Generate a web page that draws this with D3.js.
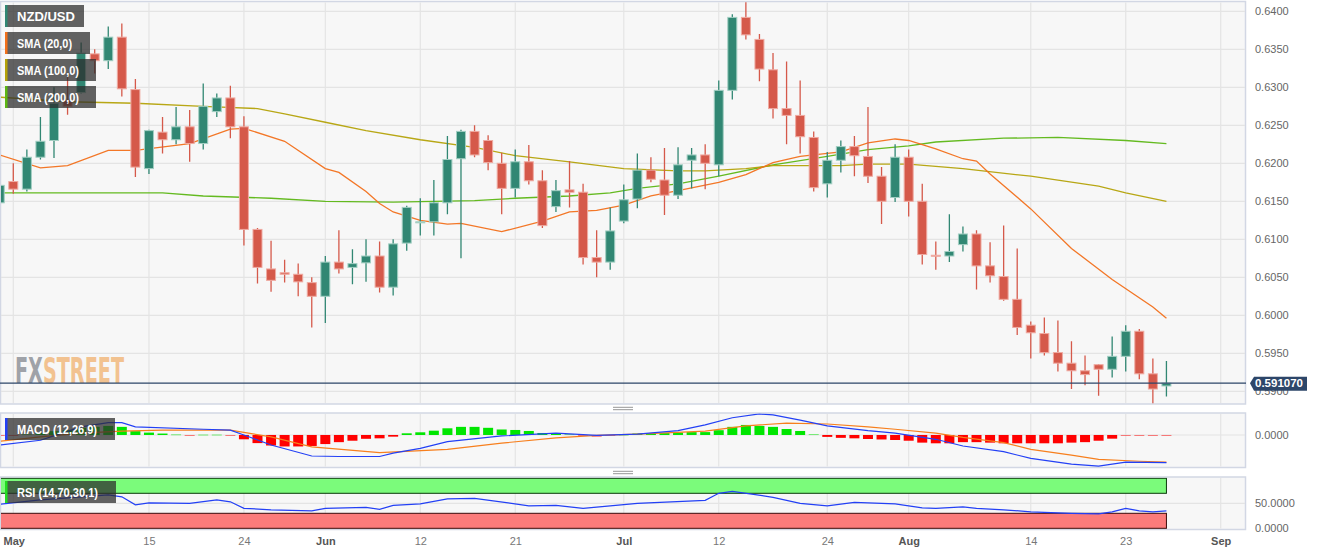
<!DOCTYPE html>
<html><head><meta charset="utf-8">
<script src="https://cdn.jsdelivr.net/npm/d3@7"></script>
<style>
html,body{margin:0;padding:0;background:#fff;}
svg{display:block;font-family:"Liberation Sans",Arial,sans-serif;}
</style>
</head><body>
<svg id="chart" width="1323" height="555"></svg>
<script>
// ---------------- DATA ----------------
const dates = ["04-28",
 "05-01","05-02","05-03","05-04","05-05","05-08","05-09","05-10","05-11","05-12","05-15","05-16","05-17","05-18","05-19","05-22","05-23","05-24","05-25","05-26","05-29","05-30","05-31",
 "06-01","06-02","06-05","06-06","06-07","06-08","06-09","06-12","06-13","06-14","06-15","06-16","06-19","06-20","06-21","06-22","06-23","06-26","06-27","06-28","06-29","06-30",
 "07-03","07-04","07-05","07-06","07-07","07-10","07-11","07-12","07-13","07-14","07-17","07-18","07-19","07-20","07-21","07-24","07-25","07-26","07-27","07-28","07-31",
 "08-01","08-02","08-03","08-04","08-07","08-08","08-09","08-10","08-11","08-14","08-15","08-16","08-17","08-18","08-21","08-22","08-23","08-24","08-25","08-28"];
const futureDates = ["08-29","08-30","08-31","09-01"];

const open = [.6148,
 .6176,.6166,.6208,.6230,.6283,.6293,.6344,.6335,.6366,.6297,.6193,.6241,.6231,.6248,.6226,.6268,.6286,.6248,.6113,.6061,.6056,.6054,.6043,
 .6025,.6070,.6063,.6069,.6078,.6037,.6095,.6122,.6123,.6148,.6206,.6242,.6230,.6200,.6167,.6202,.6177,.6143,.6165,.6162,.6076,.6070,
 .6124,.6153,.6191,.6178,.6158,.6204,.6211,.6198,.6296,.6392,.6363,.6323,.6272,.6263,.6234,.6173,.6204,.6222,.6209,.6183,.6155,
 .6208,.6150,.6079,.6078,.6093,.6107,.6065,.6051,.6021,.5987,.5976,.5951,.5937,.5927,.5935,.5929,.5946,.5979,.5923,.5907];
const high = [.6187,
 .6200,.6218,.6261,.6300,.6314,.6359,.6350,.6380,.6384,.6311,.6244,.6261,.6274,.6270,.6305,.6292,.6302,.6262,.6115,.6098,.6073,.6068,.6050,
 .6078,.6112,.6087,.6100,.6097,.6100,.6144,.6154,.6178,.6236,.6244,.6250,.6237,.6214,.6218,.6224,.6191,.6178,.6203,.6173,.6112,.6142,
 .6172,.6213,.6208,.6220,.6221,.6220,.6225,.6309,.6396,.6412,.6370,.6345,.6334,.6309,.6242,.6215,.6230,.6236,.6274,.6195,.6225,
 .6218,.6173,.6097,.6133,.6117,.6112,.6096,.6118,.6088,.5992,.5997,.5993,.5966,.5947,.5936,.5972,.5987,.5982,.5943,.5940];
const low = [.6124,
 .6160,.6163,.6205,.6207,.6264,.6292,.6318,.6324,.6288,.6182,.6186,.6213,.6225,.6202,.6218,.6261,.6233,.6092,.6042,.6031,.6043,.6025,.5984,
 .5990,.6055,.6041,.6044,.6030,.6026,.6085,.6105,.6105,.6133,.6075,.6208,.6191,.6133,.6155,.6172,.6115,.6136,.6142,.6067,.6050,.6060,
 .6121,.6141,.6175,.6132,.6153,.6167,.6166,.6183,.6284,.6363,.6308,.6259,.6225,.6213,.6163,.6155,.6188,.6183,.6174,.6120,.6149,
 .6130,.6067,.6060,.6070,.6084,.6034,.6043,.6019,.5974,.5943,.5947,.5926,.5903,.5908,.5894,.5918,.5926,.5916,.5884,.5893];
const close = [.6171,
 .6166,.6208,.6229,.6279,.6275,.6345,.6335,.6366,.6298,.6195,.6243,.6231,.6248,.6226,.6275,.6286,.6248,.6113,.6063,.6046,.6054,.6044,.6025,
 .6070,.6061,.6068,.6078,.6037,.6094,.6142,.6123,.6148,.6205,.6242,.6211,.6201,.6167,.6202,.6177,.6118,.6164,.6162,.6076,.6070,.6111,
 .6152,.6191,.6179,.6158,.6198,.6211,.6200,.6296,.6392,.6369,.6324,.6272,.6263,.6235,.6168,.6204,.6222,.6210,.6183,.6150,.6208,
 .6150,.6080,.6078,.6084,.6107,.6065,.6052,.6021,.5984,.5977,.5951,.5937,.5927,.5922,.5929,.5946,.5979,.5923,.5903,.59107];
const lastPrice = 0.591070;

const sma20 = [["04-28",.6211],["05-03",.6194],["05-05",.6197],["05-10",.6217],["05-12",.6217],["05-18",.6226],["05-23",.6245],["05-24",.6246],["05-29",.6229],["06-01",.6193],["06-02",.6188],["06-06",.6163],["06-07",.6147],["06-08",.6136],["06-12",.6125],["06-14",.6120],["06-15",.6121],["06-20",.6110],["06-23",.6124],["06-27",.6136],["06-29",.6138],["07-03",.6145],["07-05",.6157],["07-07",.6164],["07-12",.6175],["07-14",.6185],["07-18",.6201],["07-20",.6209],["07-25",.6215],["07-27",.6227],["07-31",.6232],["08-01",.6230],["08-03",.6219],["08-07",.6206],["08-08",.6203],["08-09",.6186],["08-14",.6140],["08-17",.6088],["08-22",.6047],["08-25",.6011],["08-28",.5996]];
const sma100 = [["04-28",.6287],["05-05",.6281],["05-12",.6279],["05-19",.6275],["05-25",.6272],["05-29",.6265],["06-01",.6254],["06-06",.6243],["06-12",.6231],["06-16",.6221],["06-21",.6210],["06-27",.6202],["07-03",.6193],["07-07",.6190],["07-11",.6190],["07-14",.6193],["07-18",.6197],["07-25",.6197],["07-27",.6199],["08-01",.6199],["08-03",.6196],["08-07",.6193],["08-14",.6183],["08-16",.6178],["08-21",.6170],["08-23",.6161],["08-28",.6150]];
const sma200 = [["04-28",.6161],["05-05",.6161],["05-12",.6161],["05-16",.6161],["05-19",.6157],["05-26",.6154],["06-01",.6150],["06-08",.6149],["06-16",.6151],["06-21",.6154],["06-27",.6157],["06-30",.6161],["07-04",.6167],["07-07",.6173],["07-12",.6183],["07-18",.6198],["07-24",.6209],["07-27",.6218],["08-01",.6223],["08-03",.6228],["08-10",.6233],["08-16",.6234],["08-23",.6230],["08-28",.6226]];

const macdLine = [["04-28",-.0021],["05-03",-.0011],["05-08",.0017],["05-10",.0026],["05-11",.0026],["05-12",.0017],["05-19",.0012],["05-23",.0010],["05-24",.0000],["05-26",-.0021],["05-31",-.0044],["06-02",-.0045],["06-07",-.0045],["06-08",-.0038],["06-12",-.0028],["06-14",-.0014],["06-20",-.0002],["06-26",.0004],["06-29",-.0001],["07-04",.0002],["07-07",.0009],["07-11",.0021],["07-13",.0036],["07-17",.0044],["07-18",.0042],["07-20",.0031],["07-24",.0019],["07-27",.0009],["07-31",.0004],["08-03",-.0009],["08-07",-.0023],["08-10",-.0035],["08-14",-.0049],["08-17",-.0061],["08-21",-.0065],["08-23",-.0057],["08-28",-.0058]];
const signalLine = [["04-28",-.0013],["05-03",-.0004],["05-08",.0004],["05-11",.0008],["05-16",.0010],["05-23",.0010],["05-26",-.0004],["05-31",-.0025],["06-07",-.0037],["06-14",-.0030],["06-20",-.0017],["06-26",-.0006],["06-29",-.0001],["07-04",.0002],["07-11",.0008],["07-14",.0019],["07-19",.0025],["07-24",.0023],["07-27",.0017],["07-31",.0012],["08-03",.0004],["08-07",-.0005],["08-10",-.0016],["08-14",-.0030],["08-17",-.0042],["08-21",-.0051],["08-24",-.0055],["08-28",-.0057]];
const macdHist = [-.0001,
 -.0001,.0002,.0004,.0008,.0010,.0015,.0017,.0019,.0017,.0008,.0005,.0003,.00015,-.00015,.0001,.0001,-.00006,-.0009,-.0017,-.0022,-.0024,-.0024,-.0023,
 -.0019,-.0015,-.0012,-.0008,-.0007,-.00035,.00035,.00056,.0009,.0014,.0017,.0017,.0015,.00115,.00105,.00084,.00042,.0003,.0002,-.0002,-.0003,-.0002,
 .0001,.0003,.0004,.0004,.0005,.0006,.0006,.0010,.0017,.0021,.0019,.0017,.00125,.00084,.0002,-.0004,-.0006,-.0007,-.00084,-.00094,-.00105,
 -.0012,-.0016,-.00174,-.00174,-.0015,-.0015,-.0016,-.00174,-.00174,-.00174,-.00174,-.00174,-.0016,-.0015,-.0012,-.00077,-.0002,-.00015,-.00006,-.00006];

const rsiLine = [["04-28",48],["05-03",57],["05-10",67],["05-11",63],["05-12",47],["05-15",51],["05-18",50],["05-22",57],["05-23",53],["05-24",40],["05-26",37],["05-31",35],["06-01",40],["06-06",42],["06-07",38],["06-08",46],["06-12",49],["06-14",59],["06-16",60],["06-22",45],["06-26",46],["06-28",40],["07-04",50],["07-11",56],["07-12",70],["07-13",74],["07-18",62],["07-20",50],["07-24",45],["07-26",52],["07-31",49],["08-02",41],["08-03",40],["08-07",43],["08-08",40],["08-10",37],["08-14",33],["08-17",30],["08-21",29],["08-22",33],["08-23",40],["08-24",35],["08-25",33],["08-28",35]];

const priceTicks = [0.59,0.595,0.60,0.605,0.61,0.615,0.62,0.625,0.63,0.635,0.64];
const timeTicks = ["05-01","05-15","05-24","06-01","06-12","06-21","07-03","07-12","07-24","08-01","08-14","08-23","09-01"];
const timeTickLabels = ["May","15","24","Jun","12","21","Jul","12","24","Aug","14","23","Sep"];
const legendMain = ["NZD/USD","SMA (20,0)","SMA (100,0)","SMA (200,0)"];

// ---------------- LAYOUT ----------------
const svg = d3.select("#chart");
const plotL = 0, plotR = 1246;
const P = {
  main: {top: 1.5, bottom: 404},
  macd: {top: 413, bottom: 467.5},
  rsi: {top: 477, bottom: 529.5}
};
const C = {
  up: "#318773", upEdge: "#a3cfc3",
  dn: "#d5594a", dnEdge: "#efaaa1",
  sma20: "#f2701b", sma100: "#b4a208", sma200: "#5cb614",
  grid: "#e4e4e4", border: "#d2d7e4", bg: "#f7f7f7",
  axis: "#666", navy: "#2d4669"
};

const x = d3.scalePoint().domain(dates.concat(futureDates)).range([-0.27, 1220.7]);
const y = d3.scaleLinear().domain([0.59, 0.64]).range([391.3, 11.3]);
const yM = d3.scaleLinear().domain([-0.0067, 0.0046]).range([467, 413]);
const yR = d3.scaleLinear().domain([0, 100]).range([528.3, 478.3]);

// panels
const defs = svg.append("defs");
Object.entries(P).forEach(([k, p]) => {
  svg.append("rect").attr("x", plotL + 0.5).attr("y", p.top).attr("width", plotR - plotL - 1).attr("height", p.bottom - p.top)
    .attr("fill", C.bg).attr("stroke", C.border).attr("stroke-width", 1.5);
  defs.append("clipPath").attr("id", "clip-" + k).append("rect")
    .attr("x", plotL + 1).attr("y", p.top + 0.5).attr("width", plotR - plotL - 2).attr("height", p.bottom - p.top - 1);
});

// vertical grid in all panels
Object.entries(P).forEach(([k, p]) => {
  svg.append("g").selectAll("line").data(timeTicks).join("line")
    .attr("x1", d => x(d)).attr("x2", d => x(d)).attr("y1", p.top + 1).attr("y2", p.bottom - 1)
    .attr("stroke", C.grid).attr("stroke-width", 1.2);
});
// horizontal grid
svg.append("g").selectAll("line").data(priceTicks).join("line")
  .attr("x1", plotL + 1).attr("x2", plotR - 1).attr("y1", d => y(d)).attr("y2", d => y(d))
  .attr("stroke", C.grid).attr("stroke-width", 1.2);
svg.append("line").attr("x1", plotL + 1).attr("x2", plotR - 1).attr("y1", yM(0)).attr("y2", yM(0)).attr("stroke", C.grid).attr("stroke-width", 1.2);
svg.append("line").attr("x1", plotL + 1).attr("x2", plotR - 1).attr("y1", yR(50)).attr("y2", yR(50)).attr("stroke", C.grid).attr("stroke-width", 1.2);

// watermark (one text, two coloured parts)
const wm = svg.append("text").attr("x", 15).attr("y", 383)
  .attr("font-family", "'Liberation Sans Narrow','DejaVu Sans Condensed',sans-serif").attr("font-weight", "bold").attr("font-size", 35)
  .attr("textLength", 109).attr("lengthAdjust", "spacingAndGlyphs");
wm.append("tspan").attr("fill", "#9fa2a8").text("FX");
wm.append("tspan").attr("fill", "#f2c290").text("STREET");

// ---------------- MAIN PANEL ----------------
const gMain = svg.append("g").attr("clip-path", "url(#clip-main)");
const lineGen = (ys) => d3.line().x(d => x(d[0])).y(d => ys(d[1]));
[[sma200, C.sma200], [sma100, C.sma100], [sma20, C.sma20]].forEach(([data, col]) => {
  gMain.append("path").datum(data).attr("d", lineGen(y)).attr("fill", "none").attr("stroke", col).attr("stroke-width", 1.3).attr("stroke-opacity", 0.95);
});

const candles = dates.map((d, i) => ({d, o: open[i], h: high[i], l: low[i], c: close[i]}));
const cg = gMain.append("g").selectAll("g").data(candles).join("g");
cg.append("line").attr("x1", d => x(d.d)).attr("x2", d => x(d.d))
  .attr("y1", d => y(d.h)).attr("y2", d => y(d.l))
  .attr("stroke", d => d.c >= d.o ? C.up : C.dn).attr("stroke-width", 1.3);
cg.append("rect").attr("x", d => x(d.d) - 4.5).attr("width", 9)
  .attr("y", d => y(Math.max(d.o, d.c)))
  .attr("height", d => Math.max(1, Math.abs(y(d.o) - y(d.c))))
  .attr("fill", d => d.c >= d.o ? C.up : C.dn)
  .attr("stroke", d => d.c >= d.o ? C.upEdge : C.dnEdge).attr("stroke-width", 1);

// last price line
svg.append("line").attr("x1", plotL).attr("x2", plotR).attr("y1", y(lastPrice)).attr("y2", y(lastPrice))
  .attr("stroke", C.navy).attr("stroke-width", 1.2);

// ---------------- MACD PANEL ----------------
const gM = svg.append("g").attr("clip-path", "url(#clip-macd)");
gM.append("g").selectAll("rect").data(dates.map((d, i) => [d, macdHist[i]])).join("rect")
  .attr("x", d => x(d[0]) - 5).attr("width", 10)
  .attr("y", d => Math.min(yM(0), yM(d[1])))
  .attr("height", d => Math.max(1, Math.abs(yM(d[1]) - yM(0))))
  .attr("fill", d => d[1] >= 0 ? "#00e600" : "#ff0000")
  .attr("fill-opacity", d => Math.abs(yM(d[1]) - yM(0)) < 1.2 ? 0.5 : 1);
gM.append("path").datum(signalLine).attr("d", lineGen(yM)).attr("fill", "none").attr("stroke", "#f77f1d").attr("stroke-width", 1.2);
gM.append("path").datum(macdLine).attr("d", lineGen(yM)).attr("fill", "none").attr("stroke", "#2340f5").attr("stroke-width", 1.2);

// ---------------- RSI PANEL ----------------
const gR = svg.append("g").attr("clip-path", "url(#clip-rsi)");
const bandL = x(dates[0]), bandR = x(dates[dates.length - 1]);
gR.append("rect").attr("x", bandL).attr("width", bandR - bandL).attr("y", yR(100)).attr("height", yR(70) - yR(100))
  .attr("fill", "#7bfb7b").attr("stroke", "#0b3a0b").attr("stroke-width", 1);
gR.append("rect").attr("x", bandL).attr("width", bandR - bandL).attr("y", yR(30)).attr("height", yR(0) - yR(30))
  .attr("fill", "#fb7b7b").attr("stroke", "#3a0b0b").attr("stroke-width", 1);
gR.append("path").datum(rsiLine).attr("d", lineGen(yR)).attr("fill", "none").attr("stroke", "#2340f5").attr("stroke-width", 1.2);

// ---------------- AXES ----------------
const styleAxis = g => {
  g.select(".domain").remove();
  g.selectAll("line").remove();
  g.selectAll("text").attr("fill", C.axis).attr("font-size", 11).attr("font-family", "'Liberation Sans',Arial,sans-serif");
};
svg.append("g").attr("transform", `translate(${plotR + 5},0)`)
  .call(d3.axisRight(y).tickValues(priceTicks).tickFormat(d3.format(".4f")).tickSize(0).tickPadding(4)).call(styleAxis);
svg.append("g").attr("transform", `translate(${plotR + 5},0)`)
  .call(d3.axisRight(yM).tickValues([0]).tickFormat(d3.format(".4f")).tickSize(0).tickPadding(4)).call(styleAxis);
svg.append("g").attr("transform", `translate(${plotR + 5},0)`)
  .call(d3.axisRight(yR).tickValues([0, 50]).tickFormat(d3.format(".4f")).tickSize(0).tickPadding(4)).call(styleAxis);

const xa = svg.append("g").attr("transform", `translate(0,${P.rsi.bottom + 6})`)
  .call(d3.axisBottom(x).tickValues(timeTicks).tickFormat((d, i) => timeTickLabels[i]).tickSize(0).tickPadding(2)).call(styleAxis);
xa.selectAll("text").each(function(d, i) {
  const isMonth = isNaN(+timeTickLabels[i]);
  d3.select(this).attr("font-weight", isMonth ? "bold" : "normal").attr("fill", isMonth ? "#555" : "#777");
  if (i === 0) d3.select(this).attr("text-anchor", "start").attr("x", -x(d) + 3);
});

// last price label
const lpY = y(lastPrice);
svg.append("path").attr("d", `M${plotR + 4},${lpY} l4,-6.5 h53 v14 h-53 z`).attr("fill", C.navy);
svg.append("text").attr("x", plotR + 9).attr("y", lpY + 4.2).attr("fill", "#fff").attr("font-size", 11.5).attr("font-weight", "bold").text(lastPrice.toFixed(6));

// panel splitters
[408.5, 472.5].forEach(yy => {
  [-1.2, 1.2].forEach(dy => svg.append("line").attr("x1", 613).attr("x2", 633).attr("y1", yy + dy).attr("y2", yy + dy).attr("stroke", "#8a8a8a").attr("stroke-width", 0.9));
});

// ---------------- LEGENDS ----------------
function legend(yTop, w, label, col, tl) {
  const g = svg.append("g");
  g.append("rect").attr("x", 5).attr("y", yTop).attr("width", w).attr("height", 22).attr("fill", "rgb(45,45,45)").attr("fill-opacity", 0.74);
  g.append("rect").attr("x", 5).attr("y", yTop).attr("width", 2.5).attr("height", 22).attr("fill", col);
  g.append("text").attr("x", 17).attr("y", yTop + 15.5).attr("fill", "#fff").attr("font-size", 12).attr("font-weight", "bold")
    .attr("textLength", tl).attr("lengthAdjust", "spacingAndGlyphs").text(label);
}
legend(5, 79, legendMain[0], C.up, 58);
legend(32, 85, legendMain[1], C.sma20, 55);
legend(59, 91, legendMain[2], C.sma100, 62);
legend(86, 91, legendMain[3], C.sma200, 62);
legend(418, 110, "MACD (12,26,9)", "#2340f5", 80);
legend(481, 111, "RSI (14,70,30,1)", "#22dd22", 81);
</script>
</body></html>
